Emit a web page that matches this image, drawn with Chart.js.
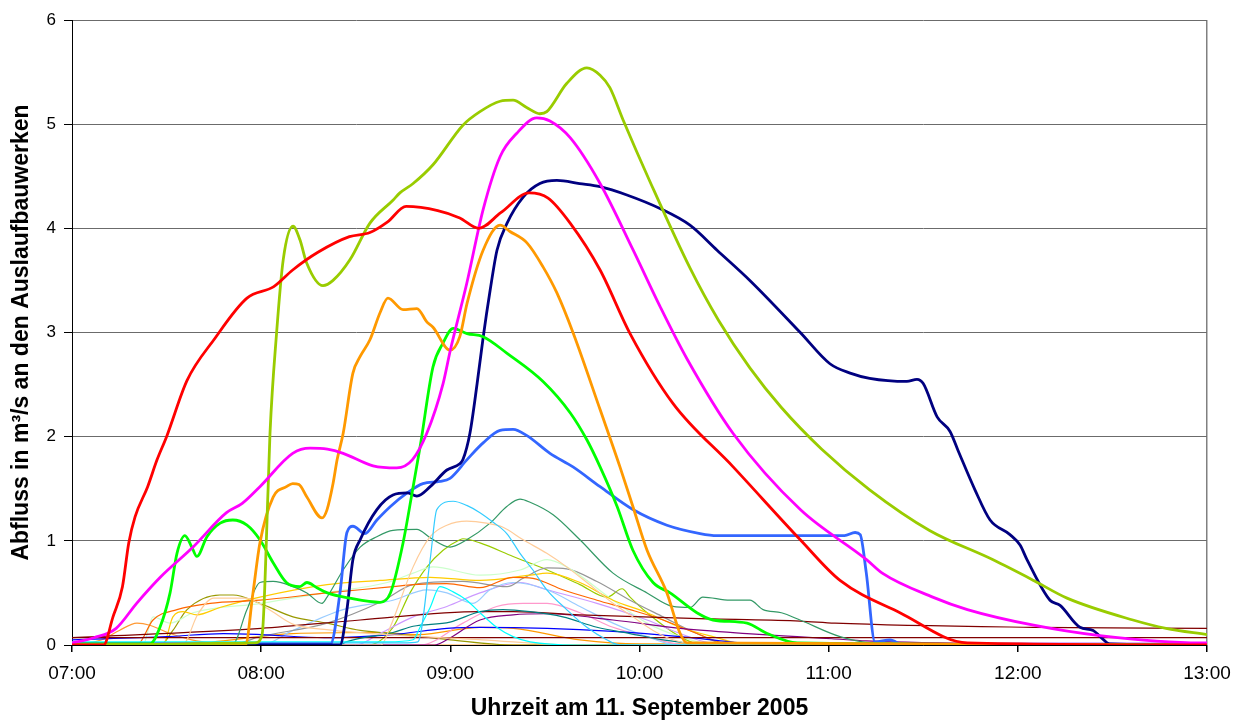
<!DOCTYPE html>
<html>
<head>
<meta charset="utf-8">
<script src="https://cdn.jsdelivr.net/npm/chart.js@4.4.1/dist/chart.umd.min.js"></script>
<style>
  html, body { margin: 0; padding: 0; background: #fff; }
  #wrap { width: 1247px; height: 722px; }
</style>
</head>
<body>
<div id="wrap"><canvas id="c" width="1247" height="722"></canvas></div>
<script>
// x = minutes after 07:00, y = m³/s
const tickMinutes = [0, 60, 120, 180, 240, 300, 360];
const tickLabels = ['07:00', '08:00', '09:00', '10:00', '11:00', '12:00', '13:00'];

// thick series
const redPts = [[0,0],[10,0],[13,0.27],[16,0.56],[18,0.98],[20,1.23],[24,1.52],[27,1.78],[30,2.0],[36.5,2.54],[45,2.93],[55.5,3.33],[64,3.44],[70,3.6],[78,3.77],[88,3.92],[94.5,3.96],[100,4.06],[106,4.21],[116,4.17],[123,4.1],[129,4.0],[136,4.15],[145,4.34],[151,4.29],[158,4.05],[167.5,3.6],[177,2.99],[190.6,2.32],[209.7,1.71],[231,1.01],[243.6,0.62],[262.6,0.31],[284,0.02],[360,0]];
const magentaPts = [[0,0.02],[7,0.07],[14,0.16],[20.5,0.4],[28,0.65],[38.4,0.94],[49,1.27],[54,1.36],[59.6,1.52],[70,1.84],[75.5,1.89],[81,1.88],[86,1.84],[95.5,1.72],[103,1.7],[108,1.78],[112.5,2.03],[117.7,2.51],[120,2.83],[125.2,3.47],[130.4,4.18],[135.8,4.69],[141,4.91],[147.4,5.06],[151.6,5.03],[158,4.87],[167.5,4.43],[178,3.79],[186.5,3.25],[195,2.75],[209.7,2.03],[231,1.3],[252,0.82],[257,0.69],[273,0.46],[284,0.34],[305,0.19],[326,0.09],[358,0.02],[360,0.02]];
const limePts = [[0,0],[58,0.02],[60.3,0.1],[62.2,1.5],[62.8,2.03],[64.9,3.0],[67,3.7],[70.1,4.02],[72.3,3.89],[74.4,3.67],[79.6,3.45],[82.8,3.5],[88.2,3.7],[94.5,4.05],[101.8,4.27],[104,4.34],[108.2,4.43],[114.5,4.61],[124,4.99],[129.4,5.12],[135.8,5.22],[139.9,5.23],[144.2,5.16],[148.4,5.1],[150.6,5.12],[156.9,5.39],[163.3,5.54],[167.5,5.47],[170.6,5.35],[174.8,5.04],[183.3,4.45],[196,3.62],[205,3.12],[215,2.66],[225,2.28],[237.8,1.88],[253,1.49],[272,1.1],[292,0.82],[305,0.62],[315.6,0.45],[336.5,0.24],[347,0.16],[360,0.1]];
const orangePts = [[0,0],[55,0],[57.4,0.5],[59.6,0.98],[63.8,1.42],[68,1.52],[70,1.55],[72,1.54],[74.5,1.42],[79.3,1.22],[80.9,1.3],[82.8,1.55],[84.1,1.78],[86,2.03],[89.1,2.61],[91.4,2.77],[94.5,2.93],[97.7,3.19],[100.2,3.33],[105,3.22],[109.4,3.23],[112.6,3.1],[114.5,3.05],[119.9,2.83],[123,2.96],[125.3,3.28],[130.4,3.79],[135.8,4.03],[138.9,3.97],[144.3,3.86],[149.4,3.63],[153.8,3.38],[158.9,3.0],[167.5,2.26],[173.8,1.71],[177.9,1.33],[182.4,0.91],[188.7,0.5],[192.9,0.11],[195.1,0.02],[360,0]];
const greenPts = [[0,0.01],[24.7,0.01],[27.9,0.17],[31.1,0.5],[33.3,0.88],[35.8,1.05],[38,0.94],[39.6,0.85],[42.8,1.04],[47,1.17],[51,1.2],[55.5,1.15],[59.6,1.01],[63.8,0.79],[68,0.6],[72.3,0.56],[74.5,0.6],[77.7,0.55],[81,0.5],[88,0.45],[97.7,0.41],[101,0.5],[105,0.98],[108.2,1.52],[110.4,1.9],[114.5,2.67],[117.7,2.9],[120.9,3.04],[125.3,2.99],[130.4,2.96],[138,2.8],[149.4,2.53],[158,2.23],[163.3,1.97],[167.5,1.71],[172.9,1.33],[177.9,0.91],[184.3,0.6],[189.7,0.5],[198.2,0.31],[203.3,0.24],[214.1,0.21],[220.5,0.11],[230,0.02],[360,0]];
const navyPts = [[0,0],[85,0],[87.2,0.34],[89.1,0.82],[91.4,1.01],[96.7,1.3],[101.8,1.44],[106.3,1.46],[109.4,1.43],[113.6,1.52],[118.9,1.68],[123,1.74],[124,1.78],[126.2,2.03],[128.5,2.51],[130.4,2.95],[132.6,3.4],[134.8,3.79],[138,4.05],[143.1,4.3],[148.4,4.43],[153.8,4.46],[161,4.43],[167.5,4.4],[176,4.32],[186.5,4.19],[196,4.03],[204.6,3.79],[215,3.5],[231,3.0],[240.4,2.7],[246.8,2.61],[253,2.56],[264.8,2.53],[268,2.55],[270,2.51],[274.4,2.19],[278.5,2.05],[281,1.87],[286.4,1.49],[291.2,1.2],[297.5,1.06],[300.7,0.96],[302.9,0.82],[310.2,0.43],[313.4,0.38],[319.7,0.17],[323.9,0.14],[326.1,0.08],[329.2,0.01],[360,0]];
const bluePts = [[0,0.01],[82,0.01],[85,0.5],[87.2,1.08],[89.1,1.14],[92.9,1.07],[96.7,1.2],[101,1.33],[106.3,1.46],[111.3,1.55],[116.7,1.57],[119.9,1.6],[125.3,1.78],[130.4,1.94],[135.8,2.06],[139.9,2.07],[144.3,2.01],[151.6,1.84],[158.9,1.71],[167.5,1.52],[177.9,1.3],[188.7,1.15],[199.2,1.07],[204.6,1.05],[245,1.05],[248.4,1.08],[250,1.06],[251.9,0.7],[254.7,0.03],[259.5,0.05],[263.6,0],[360,0]];

// thin series
const skyPts = [[0,0.02],[105,0.02],[109.7,0.03],[113.6,0.82],[115.7,1.3],[120.9,1.38],[125.2,1.34],[129.4,1.27],[133.5,1.18],[137.9,1.07],[142.1,0.88],[146.2,0.72],[150.6,0.53],[156.9,0.34],[163.3,0.17],[169.6,0.05],[173.8,0],[360,0]];
const cyanPts = [[0,0.03],[100,0.03],[108.2,0.05],[110.4,0.17],[113.6,0.36],[116.7,0.56],[120.9,0.51],[125.2,0.43],[129.4,0.31],[134.7,0.17],[139.9,0.08],[145.3,0.03],[160,0],[360,0]];
const peachPts = [[0,0],[98,0],[100.9,0.17],[108.2,0.75],[113.6,1.04],[118.9,1.15],[125.2,1.19],[131.5,1.17],[136.7,1.13],[143.1,1.01],[150.6,0.88],[156.9,0.75],[163.3,0.6],[171.6,0.4],[177.9,0.27],[184.3,0.14],[190.6,0.05],[200,0],[360,0]];
const salmonPts = [[0,0],[35,0],[40,0.3],[45,0.45],[55,0.45],[62,0.35],[70,0.2],[80,0.15],[100,0.1],[130,0.05],[160,0],[360,0]];
const seaPts = [[0,0],[50.8,0],[55.5,0.34],[59.6,0.6],[63.8,0.61],[70.1,0.56],[74.5,0.5],[79.3,0.4],[80.9,0.46],[86,0.72],[91.4,0.94],[96.7,1.04],[101.8,1.1],[109.4,1.11],[113.6,1.03],[119.9,0.94],[125.2,1.01],[132.6,1.17],[137.9,1.33],[142.1,1.4],[145.3,1.37],[152.6,1.25],[161.1,1.01],[171.6,0.69],[182.4,0.5],[190.6,0.37],[196,0.36],[200.1,0.46],[208.7,0.43],[215,0.43],[219.2,0.34],[225,0.31],[230.9,0.24],[243.6,0.08],[254,0.02],[360,0]];
const tealPts = [[0,0],[85,0],[87,0.03],[101.8,0.12],[108.2,0.18],[119.9,0.22],[129.4,0.32],[136.7,0.34],[145.3,0.32],[155.7,0.27],[166.5,0.17],[177,0.11],[187.5,0.05],[200,0.01],[360,0]];
const maroonPts = [[0,0.07],[60,0.16],[91.4,0.24],[129.4,0.32],[139.9,0.32],[161,0.29],[203.3,0.25],[230.9,0.23],[242,0.21],[304.8,0.17],[360,0.16]];
const maroonFlatPts = [[0,0.07],[360,0.07]];
const purplePts = [[0,0],[115,0],[118.9,0.05],[129.4,0.24],[139.9,0.29],[150.7,0.3],[171.6,0.24],[192.9,0.16],[214.1,0.11],[230,0.08],[241,0.06],[252,0.04],[294,0.01],[360,0]];
const blueThinPts = [[0,0.05],[30,0.08],[48,0.11],[60,0.1],[80,0.07],[101.8,0.1],[118.9,0.16],[129.4,0.17],[150.7,0.16],[171.6,0.13],[192.9,0.08],[208.7,0.03],[220,0],[360,0]];
const redOrangePts = [[0,0],[20.6,0],[25.7,0.24],[33.3,0.34],[43.8,0.4],[59.6,0.43],[80.9,0.5],[101.8,0.56],[108.2,0.58],[118.9,0.59],[129.4,0.55],[139.9,0.65],[146.2,0.64],[155.7,0.53],[166.5,0.43],[177,0.34],[187.5,0.24],[198.2,0.11],[208.7,0.01],[360,0]];
const goldPts = [[0,0],[28.9,0],[32,0.27],[35.2,0.32],[39.6,0.29],[46.9,0.36],[59.6,0.46],[80.9,0.58],[97.7,0.62],[113.6,0.65],[129.4,0.62],[145.3,0.67],[150.7,0.69],[161.1,0.6],[171.6,0.43],[182.4,0.31],[192.9,0.17],[203.3,0.08],[215,0],[360,0]];
const paleGreenPts = [[0,0],[22.5,0],[25.7,0.27],[31.1,0.21],[38.4,0.31],[60,0.4],[80,0.5],[100,0.6],[108.2,0.69],[114.5,0.75],[129.4,0.67],[142.1,0.72],[150.7,0.82],[156.9,0.75],[171.6,0.43],[182.4,0.21],[192.9,0.08],[205,0],[360,0]];
const grayPts = [[0,0],[50,0],[59.6,0.08],[80.9,0.21],[97.7,0.41],[108.2,0.58],[124,0.61],[138,0.56],[143.1,0.64],[150.7,0.74],[156.9,0.73],[166.5,0.61],[177,0.43],[187.5,0.27],[198.2,0.11],[208.7,0],[360,0]];
const lightBluePts = [[0,0],[60,0],[70.1,0.14],[86,0.34],[101.8,0.43],[112.6,0.53],[118.9,0.5],[127.2,0.4],[132.6,0.53],[139.9,0.6],[150.7,0.53],[161.1,0.37],[171.6,0.21],[182.4,0.08],[192,0],[360,0]];
const lilacPts = [[0,0],[90,0],[97.7,0.11],[108.2,0.27],[118.9,0.37],[129.4,0.5],[142.1,0.6],[150.7,0.53],[166.5,0.4],[182.4,0.24],[192.9,0.11],[203.3,0.02],[360,0.02]];
const pinkPts = [[0,0],[110.4,0],[124,0.21],[134.7,0.37],[143.1,0.4],[150.7,0.4],[161.1,0.31],[171.6,0.17],[182.4,0.08],[195,0],[360,0]];
const oliveThinPts = [[0,0],[94,0],[101.8,0.17],[107.2,0.5],[112.6,0.75],[117.7,0.91],[123,1.01],[124,1.02],[129.4,0.98],[139.9,0.85],[150.7,0.72],[161.1,0.58],[169.7,0.46],[174.5,0.54],[177,0.46],[182.4,0.31],[192.9,0.08],[200,0],[360,0]];
const oliveEarlyPts = [[0,0],[28,0],[32,0.14],[36.5,0.34],[46.9,0.48],[51.1,0.48],[59.6,0.4],[70.1,0.27],[80.9,0.21],[91.4,0.14],[101.8,0.11],[120,0.05],[140,0],[360,0]];
const lightOrangePts = [[0,0],[9.5,0.05],[15,0.14],[20.6,0.21],[24.7,0.19],[31.1,0.11],[38,0.05],[45,0.02],[60,0],[360,0]];
const orangeThinPts = [[0,0],[40,0.02],[70,0.11],[97.7,0.12],[110,0.1],[129.4,0.17],[140,0.16],[161.1,0.05],[180,0.01],[360,0]];

const thick = [
  [redPts, '#FF0000'], [magentaPts, '#FF00FF'], [limePts, '#99CC00'], [orangePts, '#FF9900'],
  [greenPts, '#00FF00'], [navyPts, '#000080'], [bluePts, '#3366FF']
];
const thin = [
  [skyPts, '#33CCFF'], [cyanPts, '#00FFFF'], [peachPts, '#FFCC99'], [salmonPts, '#FFCC99'],
  [seaPts, '#339966'], [tealPts, '#008080'], [maroonPts, '#800000'], [maroonFlatPts, '#800000'],
  [purplePts, '#800080'], [blueThinPts, '#0000FF'], [redOrangePts, '#FF6600'], [goldPts, '#FFCC00'],
  [paleGreenPts, '#CCFFCC'], [grayPts, '#969696'], [lightBluePts, '#99CCFF'], [lilacPts, '#CC99FF'],
  [pinkPts, '#FF99CC'], [oliveThinPts, '#99CC00'], [oliveEarlyPts, '#999900'],
  [lightOrangePts, '#FF9933'], [orangeThinPts, '#FF9900']
];

const mk = (pts, color, w) => ({
  data: pts.map(p => ({ x: p[0], y: p[1] })),
  borderColor: color,
  borderWidth: w,
  pointRadius: 0,
  fill: false,
  cubicInterpolationMode: 'monotone'
});

const datasets = thick.map(s => mk(s[0], s[1], 2.8)).concat(thin.map(s => mk(s[0], s[1], 1.2)));

const font = 'Liberation Sans, Arial, sans-serif';

new Chart(document.getElementById('c'), {
  type: 'line',
  data: { datasets: datasets },
  options: {
    responsive: false,
    animation: false,
    layout: { padding: { top: 20, right: 40, left: 0, bottom: 0 } },
    plugins: { legend: { display: false }, tooltip: { enabled: false } },
    scales: {
      x: {
        type: 'linear',
        min: 0,
        max: 360,
        afterBuildTicks: s => { s.ticks = tickMinutes.map(v => ({ value: v })); },
        afterFit: s => { s.height = 77; },
        ticks: {
          autoSkip: false,
          maxRotation: 0,
          padding: 10,
          color: '#000',
          font: { family: font, size: 19 },
          callback: (v) => tickLabels[tickMinutes.indexOf(v)]
        },
        grid: {
          color: ctx => (ctx.tick && ctx.tick.value === 360) ? '#808080' : 'rgba(0,0,0,0)',
          lineWidth: 1.5,
          tickColor: '#000',
          tickLength: 7
        },
        border: { color: '#000', width: 1 },
        title: {
          display: true,
          text: 'Uhrzeit am 11. September 2005',
          color: '#000',
          font: { family: font, size: 23, weight: 'bold' },
          padding: { top: 0, bottom: 0 }
        }
      },
      y: {
        min: 0,
        max: 6,
        afterFit: s => { s.width = 72; },
        ticks: {
          stepSize: 1,
          padding: 8,
          color: '#000',
          font: { family: font, size: 17 }
        },
        grid: { color: '#6b6b6b', lineWidth: 1, tickColor: '#000', tickLength: 8 },
        border: { color: '#000', width: 1 },
        title: {
          display: true,
          text: 'Abfluss in m³/s an den Auslaufbauwerken',
          color: '#000',
          font: { family: font, size: 23, weight: 'bold' },
          padding: { top: 8, bottom: 0 }
        }
      }
    }
  }
});
</script>
</body>
</html>
